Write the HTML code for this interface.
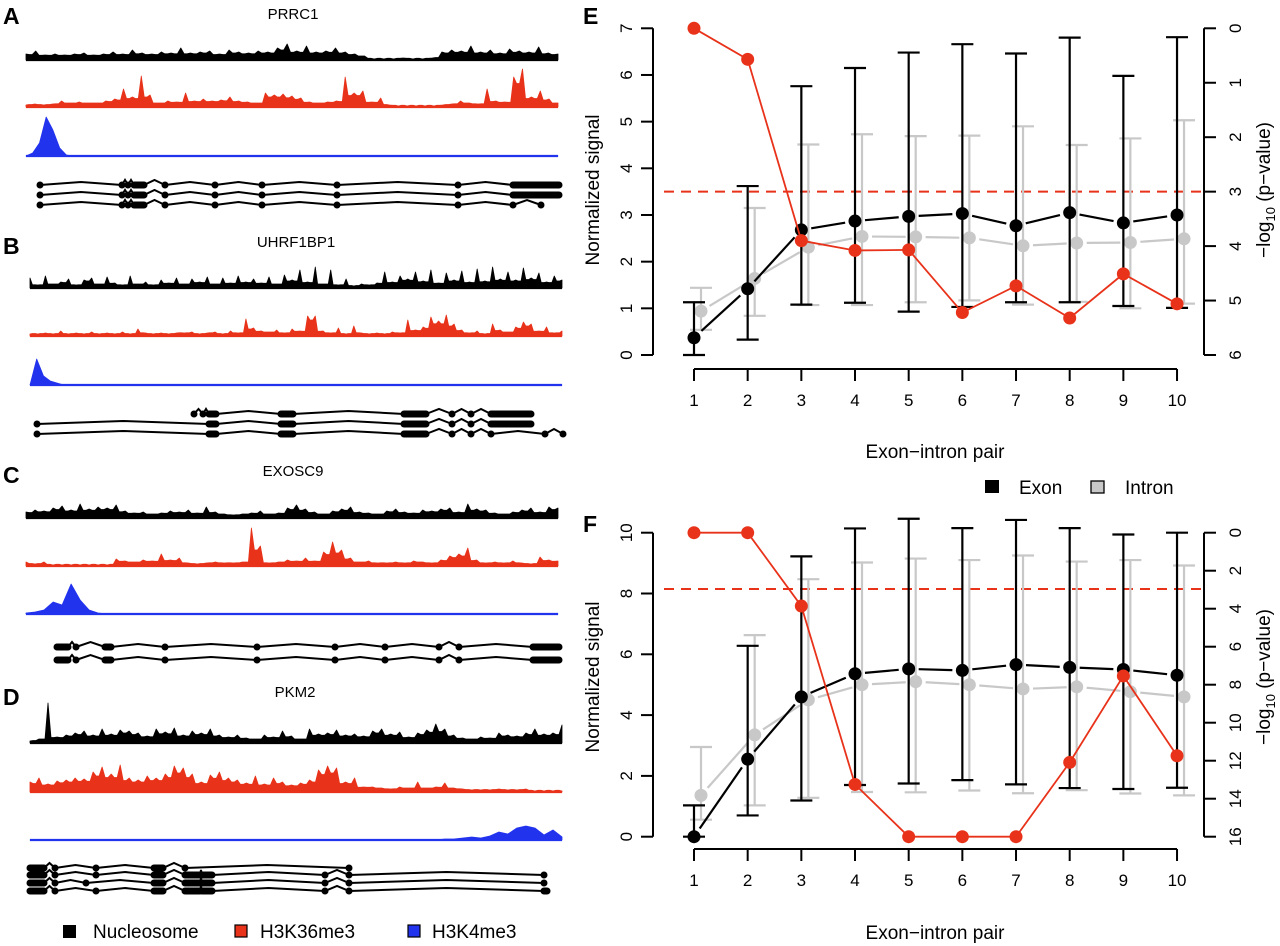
<!DOCTYPE html>
<html><head><meta charset="utf-8"><style>
html,body{margin:0;padding:0;background:#fff;}
svg{display:block;font-family:"Liberation Sans",Arial,sans-serif;}
</style></head><body>
<svg id="fig" width="1280" height="946" viewBox="0 0 1280 946" xmlns="http://www.w3.org/2000/svg">
<g font-weight="bold" font-size="23">
<text x="3" y="24">A</text>
<text x="3" y="254">B</text>
<text x="3" y="483">C</text>
<text x="3" y="705">D</text>
<text x="583" y="24">E</text>
<text x="583" y="532">F</text>
</g>
<g font-size="15" text-anchor="middle">
<text x="293" y="19">PRRC1</text>
<text x="296" y="247">UHRF1BP1</text>
<text x="293" y="476">EXOSC9</text>
<text x="295" y="697">PKM2</text>
</g>
<g font-size="19">
<rect x="63" y="925" width="13" height="13" fill="#000"/>
<text x="93" y="938">Nucleosome</text>
<rect x="235" y="925" width="12" height="12" fill="#e8321a" stroke="#000" stroke-width="1.2"/>
<text x="260" y="938">H3K36me3</text>
<rect x="408" y="925" width="12" height="12" fill="#2233ee" stroke="#000" stroke-width="1.2"/>
<text x="432" y="938">H3K4me3</text>
</g>
<g font-size="19">
<rect x="985" y="480" width="14" height="13" fill="#000"/>
<text x="1019" y="494">Exon</text>
<rect x="1091" y="481" width="13" height="12" fill="#c8c8c8" stroke="#000" stroke-width="1.3"/>
<text x="1125" y="494">Intron</text>
</g>
<g id="tracks"></g>
<g id="chartE"></g>
<g id="chartF"></g>
</svg>
<script>
const sigA_nuc=[6,9,5,6,5,6,7,5,6,8,6,10,7,6,8,7,12,7,8,9,6,10,8,7,9,8,12,16,9,14,8,9,12,8,6,4,1,1,1,2,1,1,2,8,10,9,14,8,10,7,11,9,8,13,7,6];
const sigA_k36=[2,3,2,3,6,4,5,4,4,6,8,18,10,31,12,4,6,5,14,6,8,6,7,10,6,5,4,14,12,13,11,9,5,4,5,6,30,14,16,5,9,2,1,1,1,1,1,2,3,6,4,3,18,6,5,30,38,10,16,8,4];
const sigA_k4=[0,3,13,39,26,8,1,0,0,0,0,0,0,0,0,0,0,0,0,0,0,0,0,0,0,0,0,0,0,0,0,0,0,0,0,0,0,0,0,0,0,0,0,0,0,0,0,0,0,0,0,0,0,0,0,0,0,0,0,0,0,0,0,0,0,0,0,0,0,0,0,0,0,0,0,0,0,0,0,0];
const sigB_nuc=[10,3,12,4,6,9,3,8,10,4,11,5,3,12,4,6,3,8,5,10,4,9,6,11,4,10,5,12,6,9,5,11,4,13,8,18,6,21,4,18,3,9,2,4,3,5,16,6,12,9,16,7,18,5,15,8,17,6,19,7,21,9,16,8,20,10,15,6,12,8];
const sigB_k36=[2,2,3,2,5,2,3,2,4,2,3,2,4,2,7,3,2,3,2,3,3,4,2,3,4,2,5,3,17,8,5,4,6,3,7,5,20,20,5,3,8,2,10,3,2,3,2,4,3,16,6,9,19,15,21,12,6,3,5,2,12,6,4,9,14,12,5,9,3,5];
const sigB_k4=[0,26,9,4,2,0,0,0,0,0,0,0,0,0,0,0,0,0,0,0,0,0,0,0,0,0,0,0,0,0,0,0,0,0,0,0,0,0,0,0,0,0,0,0,0,0,0,0,0,0,0,0,0,0,0,0,0,0,0,0,0,0,0,0,0,0,0,0,0,0,0,0,0,0,0,0,0,0,0,0];
const sigC_nuc=[6,8,7,10,12,8,14,9,11,10,13,7,5,6,4,5,7,6,8,5,11,6,4,3,4,5,7,4,5,10,13,9,6,4,7,9,11,6,5,4,7,9,6,5,8,7,9,10,6,14,9,8,5,4,6,8,10,6,11,10];
const sigC_k36=[4,2,4,1,1,1,1,1,1,1,7,5,4,6,5,12,6,8,3,2,3,4,3,3,4,38,20,3,4,6,5,8,5,14,24,16,8,4,5,3,3,4,3,5,4,3,6,10,12,18,6,3,4,3,5,3,2,9,6,5];
const sigC_k4=[1,2,4,12,9,30,14,4,1,0,0,0,0,0,0,0,0,0,0,0,0,0,0,0,0,0,0,0,0,0,0,0,0,0,0,0,0,0,0,0,0,0,0,0,0,0,0,0,0,0,0,0,0,0,0,0,0,0,0,0];
const sigD_nuc=[2,4,40,6,8,10,12,8,14,9,13,12,10,7,14,11,15,8,12,10,14,8,6,8,5,4,8,6,12,7,4,14,9,10,13,8,9,7,12,14,9,11,6,10,13,19,14,8,5,4,6,5,10,8,7,10,14,9,10,18];
const sigD_k36=[10,14,8,11,12,14,13,20,25,18,27,14,12,16,14,18,26,24,18,10,17,20,14,12,9,16,8,14,10,7,9,12,22,26,24,10,14,5,5,4,3,5,4,10,4,5,9,4,3,2,2,2,3,2,2,3,1,1,1,1];
const sigD_k4=[0,0,0,0,0,0,0,0,0,0,0,0,0,0,0,0,0,0,0,0,0,0,0,0,0,0,0,0,0,0,0,0,0,0,0,0,0,0,0,0,0,0,0,0,0,0,1,1,2,3,2,4,8,6,12,14,12,5,10,3];
const genesA=[[[14,14],[96,96],[102,102],[108,118],[139,139],[189,189],[236,236],[311,311],[432,432],[487,533]],
 [[14,14],[96,96],[102,102],[108,118],[139,139],[189,189],[236,236],[311,311],[432,432],[487,533]],
 [[14,14],[96,96],[102,102],[108,118],[139,139],[189,189],[236,236],[311,311],[432,432],[487,487],[515,515]]];
const genesB=[[[164,164],[173,173],[179,186],[251,263],[374,396],[422,422],[441,441],[461,501]],
 [[7,7],[179,186],[251,263],[374,396],[422,422],[441,441],[461,501]],
 [[7,7],[179,186],[251,263],[374,396],[422,422],[441,441],[461,461],[515,515],[533,533]]];
const genesC=[[[31,42],[50,50],[79,85],[139,139],[231,231],[309,309],[359,359],[413,413],[433,433],[507,533]],
 [[31,42],[50,50],[79,85],[139,139],[231,231],[309,309],[359,359],[413,413],[433,433],[507,533]]];
const genesD=[[[0,14],[25,25],[66,66],[124,133],[155,155],[319,319]],
 [[0,14],[25,25],[66,66],[124,133],[155,170],[172,182],[295,295],[319,319],[514,514]],
 [[0,14],[25,25],[56,56],[124,133],[155,170],[172,182],[295,295],[319,319],[514,514]],
 [[0,14],[25,25],[66,66],[124,133],[155,170],[172,182],[295,295],[319,319],[514,517]]];

const NS="http://www.w3.org/2000/svg";
function mk(tag,attrs,parent){const e=document.createElementNS(NS,tag);for(const k in attrs)e.setAttribute(k,attrs[k]);parent.appendChild(e);return e;}
const tracks=document.getElementById('tracks');

function drawSignal(vals,x0,x1,base,color,name,spiky){
  const n=vals.length;const sx=i=>x0+i*(x1-x0)/(n-1);
  let d='M'+x0+','+base;
  vals.forEach((v,i)=>{
    d+=' L'+sx(i).toFixed(1)+','+(base-v).toFixed(1);
    if(spiky&&i<n-1){
      const m=Math.min(v,vals[i+1])*0.75;
      const xm=(sx(i)+sx(i+1))/2;
      d+=' L'+(xm-1.5).toFixed(1)+','+(base-m-1).toFixed(1)+' L'+(xm+1.5).toFixed(1)+','+(base-m-1).toFixed(1);
    }
  });
  d+=' L'+x1+','+base+' Z';
  const p=mk('path',{d:d,fill:color,stroke:color,'stroke-width':0.8,'stroke-linejoin':'round'},tracks);
  
  
  const l=mk('line',{x1:x0,x2:x1,y1:base,y2:base,stroke:color,'stroke-width':2.2},tracks);
  
  
}
function drawGene(rows,x0,ys,name){
  rows.forEach((ex,r)=>{
    const y=ys[r];
    const g=mk('g',{},tracks);
    
    
    for(let i=0;i<ex.length-1;i++){
      const a=x0+ex[i][1],b=x0+ex[i+1][0];
      const up=(b-a)>30?3:5;
      const pl=mk('polyline',{points:a+','+y+' '+((a+b)/2)+','+(y-up)+' '+b+','+y,fill:'none',stroke:'#000','stroke-width':2},g);
      
      
    }
    ex.forEach(e=>{
      const s=x0+e[0],t=x0+e[1];
      const rc=mk('rect',{x:s-3.5,y:y-3.5,width:(t-s)+7,height:7,rx:3.5,fill:'#000'},g);
      
      
    });
  });
}
drawSignal(sigA_nuc,26,558,60,'#000','prrc1-nucleosome-track',true);
drawSignal(sigA_k36,26,558,107,'#e8321a','prrc1-h3k36me3-track',true);
drawSignal(sigA_k4,26,558,156,'#2233ee','prrc1-h3k4me3-track',false);
drawGene(genesA,26,[185,195,205],'prrc1-gene-model');
drawSignal(sigB_nuc,30,562,288,'#000','uhrf1bp1-nucleosome-track',true);
drawSignal(sigB_k36,30,562,336,'#e8321a','uhrf1bp1-h3k36me3-track',true);
drawSignal(sigB_k4,30,562,385,'#2233ee','uhrf1bp1-h3k4me3-track',false);
drawGene(genesB,30,[414,424,434],'uhrf1bp1-gene-model');
drawSignal(sigC_nuc,26,558,518,'#000','exosc9-nucleosome-track',true);
drawSignal(sigC_k36,26,558,566,'#e8321a','exosc9-h3k36me3-track',true);
drawSignal(sigC_k4,26,558,614,'#2233ee','exosc9-h3k4me3-track',false);
drawGene(genesC,26,[647,660],'exosc9-gene-model');
drawSignal(sigD_nuc,30,562,743,'#000','pkm2-nucleosome-track',true);
drawSignal(sigD_k36,30,562,792,'#e8321a','pkm2-h3k36me3-track',true);
drawSignal(sigD_k4,30,562,840,'#2233ee','pkm2-h3k4me3-track',false);
drawGene(genesD,30,[868,875,883,891],'pkm2-gene-model');

const pairs=[1,2,3,4,5,6,7,8,9,10];
const E_exon=[0.37,1.42,2.68,2.87,2.97,3.03,2.77,3.05,2.83,3.0];
const E_exonHi=[1.13,3.62,5.76,6.15,6.48,6.66,6.46,6.80,5.98,6.81];
const E_exonLo=[0,0.33,1.08,1.12,0.93,1.03,1.13,1.13,1.05,1.01];
const E_intron=[0.94,1.64,2.31,2.54,2.53,2.51,2.34,2.40,2.41,2.49];
const E_intronHi=[1.44,3.15,4.51,4.73,4.69,4.70,4.90,4.50,4.64,5.03];
const E_intronLo=[0.54,0.84,1.07,1.07,1.13,1.17,1.08,1.14,1.00,1.10];
const E_pval=[0,0.57,3.9,4.08,4.07,5.22,4.73,5.32,4.51,5.06];
const E_thresh=3.0;
const E_leftTicks=[0,1,2,3,4,5,6,7];
const E_rightTicks=[0,1,2,3,4,5,6];
const F_exon=[0,2.55,4.6,5.36,5.52,5.47,5.66,5.57,5.5,5.31];
const F_exonHi=[1.03,6.28,9.22,10.14,10.46,10.15,10.42,10.15,9.94,10.0];
const F_exonLo=[0,0.7,1.19,1.7,1.75,1.86,1.72,1.6,1.57,1.61];
const F_intron=[1.36,3.35,4.5,5.0,5.1,5.0,4.86,4.93,4.77,4.6];
const F_intronHi=[2.95,6.63,8.47,9.02,9.15,9.1,9.25,9.05,9.1,8.92];
const F_intronLo=[0.56,1.03,1.28,1.47,1.46,1.52,1.43,1.53,1.42,1.36];
const F_pval=[0,0,3.86,13.25,16,16,16,12.09,7.54,11.74];
const F_thresh=2.96;
const F_leftTicks=[0,2,4,6,8,10];
const F_rightTicks=[0,2,4,6,8,10,12,14,16];

const RED='#e8321a',GRAY='#c8c8c8';
function drawChart(id,cfg){
  const root=document.getElementById(id);
  const xS=i=>694+(i-1)*53.67;
  const yL=v=>cfg.y0-(v-0)*(cfg.y0-cfg.yTop)/cfg.lmax;
  const yR=p=>cfg.yTop+p*(cfg.y0-cfg.yTop)/cfg.rmax;
  const G=(n)=>{const g=mk('g',{},root);return g;};
  const la=G(cfg.p+'-left-axis');
  mk('line',{x1:653,x2:653,y1:yL(cfg.lticks[0]),y2:yL(cfg.lticks[cfg.lticks.length-1]),stroke:'#000','stroke-width':2},la);
  cfg.lticks.forEach(t=>{
    mk('line',{x1:641,x2:653,y1:yL(t),y2:yL(t),stroke:'#000','stroke-width':2},la);
    const tx=mk('text',{x:0,y:0,'font-size':17,'text-anchor':'middle',transform:'translate(632,'+yL(t)+') rotate(-90)'},la);
    tx.textContent=t;
    
    
  });
  const lt=mk('text',{'font-size':19,'text-anchor':'middle',transform:'translate(599,'+cfg.titleY+') rotate(-90)'},root);
  lt.textContent='Normalized signal';
  
  
  const ra=G(cfg.p+'-right-axis');
  mk('line',{x1:1204,x2:1204,y1:yR(cfg.rticks[0]),y2:yR(cfg.rticks[cfg.rticks.length-1]),stroke:'#000','stroke-width':2},ra);
  cfg.rticks.forEach(t=>{
    mk('line',{x1:1204,x2:1216,y1:yR(t),y2:yR(t),stroke:'#000','stroke-width':2},ra);
    const tx=mk('text',{x:0,y:0,'font-size':17,'text-anchor':'middle',transform:'translate(1241,'+yR(t)+') rotate(-90)'},ra);
    tx.textContent=t;
    
    
  });
  const rt=mk('text',{'font-size':19,'text-anchor':'middle',transform:'translate(1270,'+cfg.titleY+') rotate(-90)'},root);
  
  
  rt.innerHTML='\u2212log<tspan font-size="13" dy="5">10</tspan><tspan dy="-5"> (p\u2212value)</tspan>';
  const xa=G(cfg.p+'-x-axis');
  mk('line',{x1:xS(1),x2:xS(10),y1:cfg.xAxisY,y2:cfg.xAxisY,stroke:'#000','stroke-width':2},xa);
  pairs.forEach(k=>{
    mk('line',{x1:xS(k),x2:xS(k),y1:cfg.xAxisY,y2:cfg.xAxisY+12,stroke:'#000','stroke-width':2},xa);
    const tx=mk('text',{x:xS(k),y:cfg.xAxisY+37,'font-size':17,'text-anchor':'middle'},xa);
    tx.textContent=k;
    
    
  });
  const xt=mk('text',{x:935,y:cfg.xTitleY,'font-size':19,'text-anchor':'middle'},root);
  xt.textContent='Exon\u2212intron pair';
  
  
  const th=mk('line',{x1:664,x2:1204,y1:yR(cfg.thresh),y2:yR(cfg.thresh),stroke:RED,'stroke-width':2,'stroke-dasharray':'10,7'},root);
  
  
  function series(vals,hi,lo,off,color,name){
    const g=G(cfg.p+'-'+name+'-series');
    for(let i=0;i<vals.length-1;i++){
      const xa1=xS(pairs[i])+off,ya1=yL(vals[i]),xb=xS(pairs[i+1])+off,yb=yL(vals[i+1]);
      const L=Math.hypot(xb-xa1,yb-ya1),ux=(xb-xa1)/L,uy=(yb-ya1)/L,gap=10;
      const ln=mk('line',{x1:xa1+ux*gap,y1:ya1+uy*gap,x2:xb-ux*gap,y2:yb-uy*gap,stroke:color,'stroke-width':2.2},g);
      
      
    }
    vals.forEach((v,i)=>{
      const x=xS(pairs[i])+off;
      const eb=mk('path',{d:'M'+x+','+yL(lo[i])+' V'+yL(hi[i])+' M'+(x-11)+','+yL(hi[i])+' H'+(x+11)+' M'+(x-11)+','+yL(lo[i])+' H'+(x+11),stroke:color,'stroke-width':2.2,fill:'none'},g);
      
      
    });
    vals.forEach((v,i)=>{
      const c=mk('circle',{cx:xS(pairs[i])+off,cy:yL(v),r:6.5,fill:color},g);
      
      
    });
  }
  series(cfg.intron,cfg.intronHi,cfg.intronLo,7,GRAY,'intron');
  series(cfg.exon,cfg.exonHi,cfg.exonLo,0,'#000','exon');
  const pg=G(cfg.p+'-pvalue-series');
  const pts=cfg.pval.map((p,i)=>xS(pairs[i])+','+yR(p)).join(' ');
  const pl=mk('polyline',{points:pts,fill:'none',stroke:RED,'stroke-width':1.8},pg);
  
  
  cfg.pval.forEach((p,i)=>{
    const c=mk('circle',{cx:xS(pairs[i]),cy:yR(p),r:6.5,fill:RED},pg);
    
    
  });
}
drawChart('chartE',{p:'panel-e',y0:355,yTop:28.3,lmax:7,rmax:6,lticks:E_leftTicks,rticks:E_rightTicks,xAxisY:369,xTitleY:458,titleY:190,thresh:E_thresh,
  exon:E_exon,exonHi:E_exonHi,exonLo:E_exonLo,intron:E_intron,intronHi:E_intronHi,intronLo:E_intronLo,pval:E_pval});
drawChart('chartF',{p:'panel-f',y0:836.7,yTop:532.7,lmax:10,rmax:16,lticks:F_leftTicks,rticks:F_rightTicks,xAxisY:849,xTitleY:939,titleY:677,thresh:F_thresh,
  exon:F_exon,exonHi:F_exonHi,exonLo:F_exonLo,intron:F_intron,intronHi:F_intronHi,intronLo:F_intronLo,pval:F_pval});
</script>
</body></html>
